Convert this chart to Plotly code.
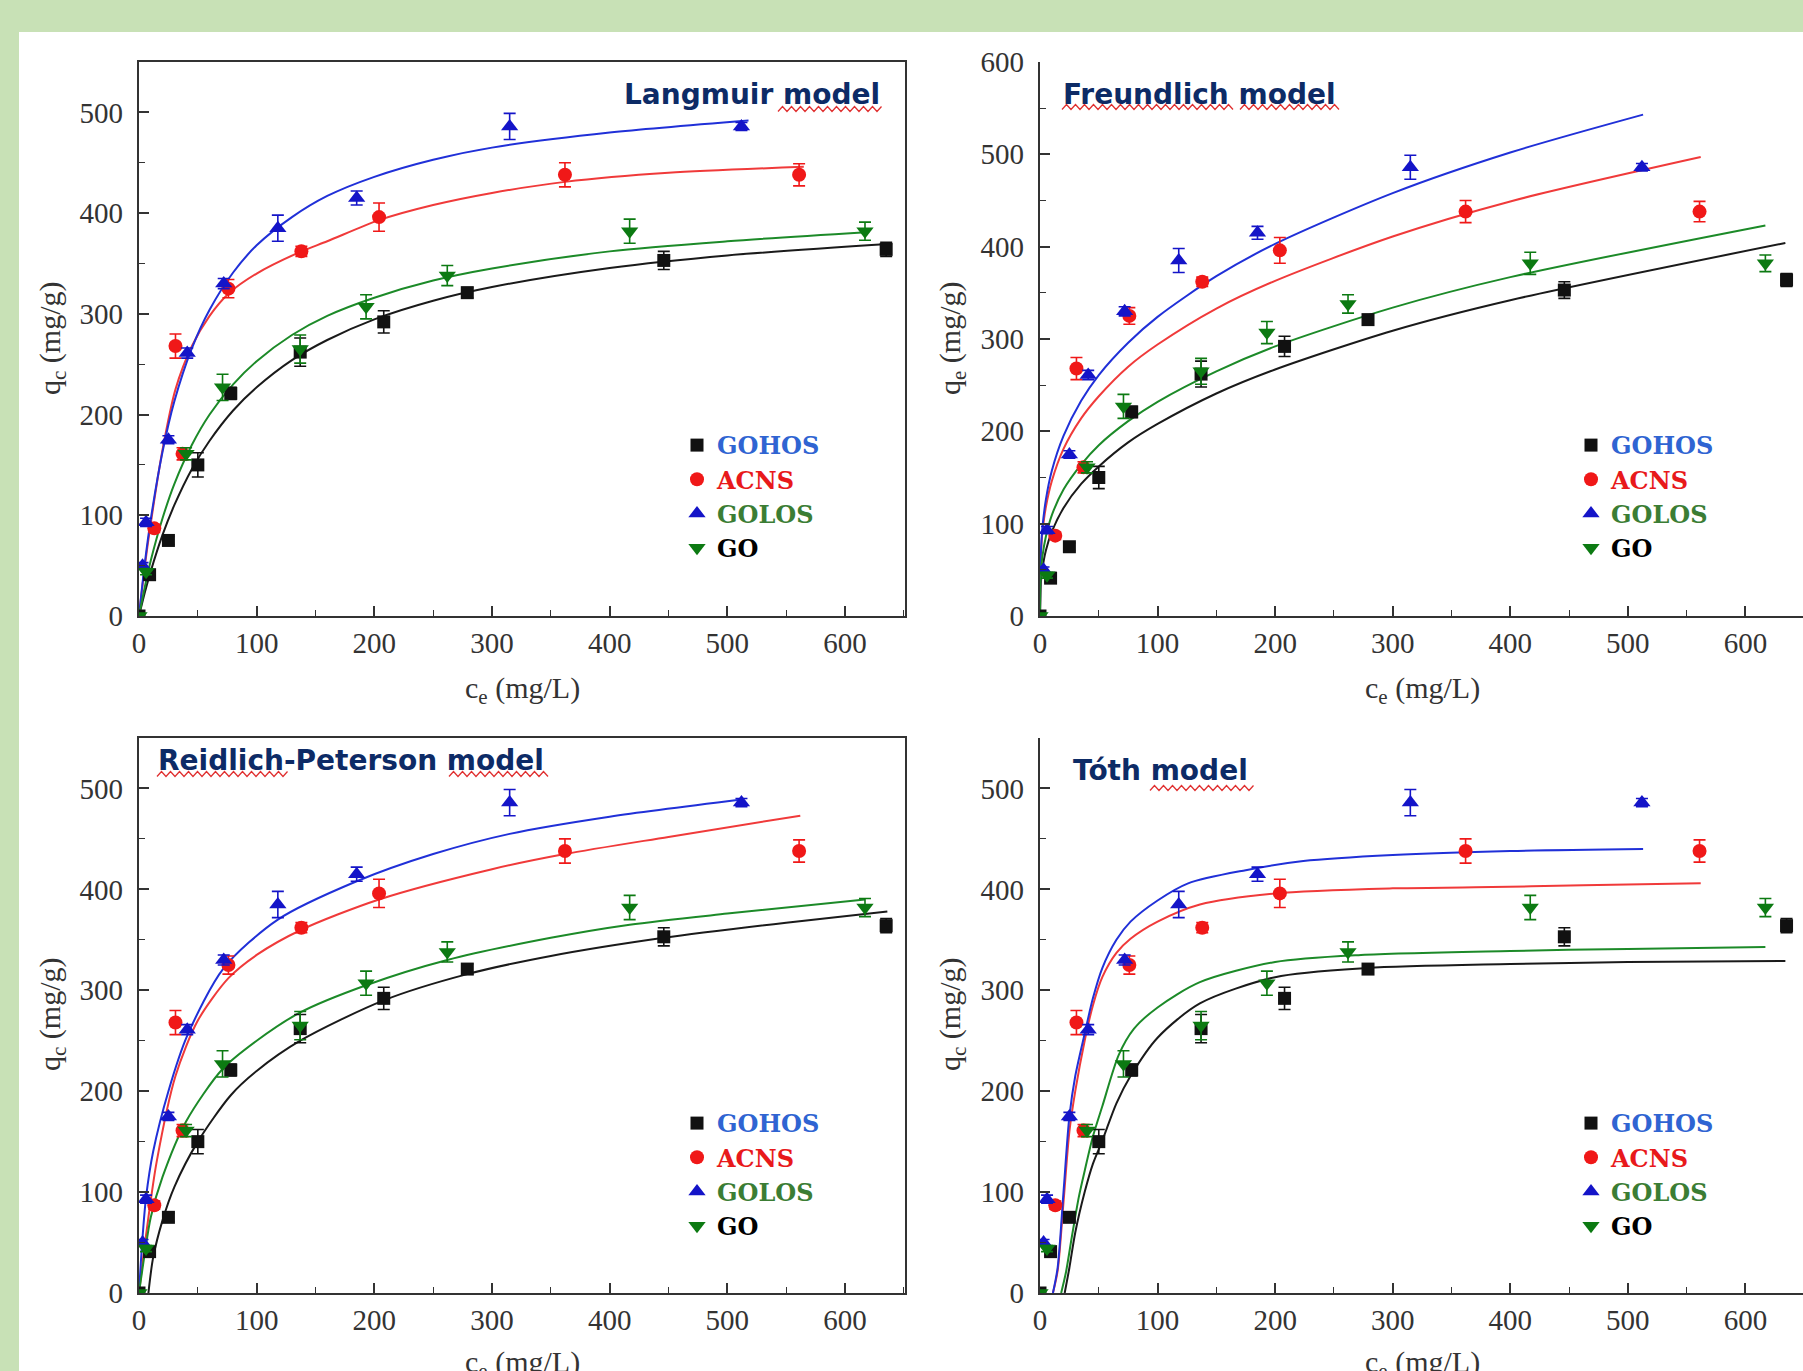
import plotly.graph_objects as go

W, H = 1803, 1371

# ---------------- experimental data (same in all four panels) ----------------
series_names = ["GOHOS", "ACNS", "GOLOS", "GO"]

gohos_x = [0, 9, 25, 50, 78, 137, 208, 279, 446, 635]
gohos_y = [0, 41, 75, 150, 221, 262, 292, 321, 353, 364]
gohos_err = [0, 4, 4, 12, 6, 14, 11, 5, 9, 7]

acns_x = [13, 31, 37, 76, 138, 204, 362, 561]
acns_y = [87, 268, 161, 325, 362, 396, 438, 438]
acns_err = [4, 12, 6, 9, 5, 14, 12, 11]

golos_x = [3, 6, 25, 41, 72, 118, 185, 315, 512]
golos_y = [50, 93, 175, 261, 330, 385, 415, 486, 486]
golos_err = [3, 4, 4, 5, 5, 13, 7, 13, 4]

go_x = [0, 6, 40, 71, 137, 193, 262, 417, 617]
go_y = [0, 44, 161, 227, 265, 307, 338, 382, 382]
go_err = [0, 3, 6, 13, 14, 12, 10, 12, 9]

# ---------------- fitted curves ----------------
# Langmuir
lang_gohos_x = [0, 5, 10, 20, 30, 45, 60, 80, 100, 130, 160, 200, 250, 300, 400, 500, 640]
lang_gohos_y = [0, 23.5, 44.5, 80.5, 110, 146, 174, 204, 227, 254, 274, 294.5, 313, 326.6, 345.5, 358, 369.5]
lang_acns_x = [0, 5, 10, 20, 31, 45, 60, 76, 100, 138, 160, 204, 250, 300, 362, 450, 565]
lang_acns_y = [0, 50, 92, 165, 225, 268, 298, 320, 340, 362, 372, 393, 408, 420, 431, 440, 446]
lang_golos_x = [0, 5, 10, 20, 30, 45, 60, 80, 100, 130, 160, 200, 250, 300, 400, 518]
lang_golos_y = [0, 53, 96, 163, 213, 266, 304, 341, 368, 396, 417, 436, 453, 465, 480, 492]
lang_go_x = [0, 5, 10, 20, 30, 45, 60, 80, 100, 130, 160, 200, 250, 300, 400, 500, 618]
lang_go_y = [0, 29, 55, 97, 131, 170, 200, 230, 253, 279, 298, 316, 333, 345, 362, 372, 381]

# Freundlich
freu_gohos_x = [0, 0.5, 1, 2, 5, 10, 20, 35, 50, 75, 100, 150, 200, 300, 400, 634]
freu_gohos_y = [0, 31, 40, 51, 71, 91, 117, 143, 162, 188, 208, 241, 267, 309, 342, 404]
freu_acns_x = [0, 0.5, 1, 2, 5, 10, 20, 35, 50, 75, 100, 150, 200, 300, 400, 562]
freu_acns_y = [0, 59, 73, 90, 118, 146, 181, 214, 238, 270, 294, 333, 363, 411, 449, 497]
freu_golos_x = [0, 0.5, 1, 2, 5, 10, 20, 35, 50, 75, 100, 150, 200, 300, 400, 513]
freu_golos_y = [0, 61, 76, 95, 126, 157, 195, 233, 261, 296, 324, 368, 403, 458, 502, 543]
freu_go_x = [0, 0.5, 1, 2, 5, 10, 20, 35, 50, 75, 100, 150, 200, 300, 400, 617]
freu_go_y = [0, 40, 51, 64, 86, 109, 137, 164, 185, 211, 232, 265, 292, 334, 367, 423]

# Reidlich-Peterson
rp_gohos_x = [8, 12, 20, 30, 50, 78, 100, 137, 208, 279, 350, 446, 550, 636]
rp_gohos_y = [0, 35, 72, 105, 150, 196, 220, 250, 290, 316, 334, 352, 367, 378]
rp_acns_x = [0, 3, 8, 15, 31, 50, 76, 100, 138, 204, 300, 362, 450, 562]
rp_acns_y = [0, 30, 75, 130, 215, 270, 312, 335, 360, 390, 420, 435, 452, 473]
rp_golos_x = [0, 3, 6, 12, 25, 41, 72, 118, 185, 250, 315, 400, 512]
rp_golos_y = [0, 55, 95, 140, 200, 255, 322, 370, 408, 435, 455, 472, 489]
rp_go_x = [0, 5, 10, 20, 40, 71, 100, 137, 193, 262, 350, 417, 500, 617]
rp_go_y = [0, 40, 75, 115, 170, 222, 250, 278, 305, 330, 352, 365, 376, 390]

# Toth
toth_gohos_x = [21, 25, 30, 38, 45, 53, 65, 77, 100, 136, 200, 278, 400, 500, 634]
toth_gohos_y = [0, 25, 60, 100, 128, 151, 188, 215, 253, 287, 313, 322, 326, 328, 329]
toth_acns_x = [11, 15, 20, 25, 30, 38, 45, 53, 65, 77, 100, 136, 200, 300, 370, 462, 562]
toth_acns_y = [0, 22, 90, 160, 200, 250, 285, 313, 337, 351, 368, 385, 396, 401, 402, 404, 406]
toth_golos_x = [11, 15, 20, 25, 30, 38, 45, 53, 65, 77, 100, 126, 175, 224, 300, 400, 513]
toth_golos_y = [0, 25, 100, 175, 215, 257, 292, 322, 350, 368, 389, 406, 419, 428, 434, 438, 440]
toth_go_x = [18, 22, 27, 33, 38, 45, 53, 67, 80, 100, 136, 200, 273, 400, 500, 617]
toth_go_y = [0, 20, 55, 95, 121, 155, 185, 236, 262, 283, 308, 328, 335, 339, 341, 343]

# tick values
x_ticks = [0, 100, 200, 300, 400, 500, 600]
y_ticks_550 = [0, 100, 200, 300, 400, 500]
y_ticks_600 = [0, 100, 200, 300, 400, 500, 600]

# ---------------- styling ----------------
marker_colors = ["#111111", "#f01818", "#1414c8", "#0c7a12"]
line_colors = ["#1a1a1a", "#f03a3a", "#2030d8", "#1c8a28"]
symbols = ["square", "circle", "triangle-up", "triangle-down"]
msizes = [13, 14, 15, 15]
label_colors = ["#2f64d2", "#e8191b", "#3b7d34", "#000000"]

data_sets = [
    (gohos_x, gohos_y, gohos_err),
    (acns_x, acns_y, acns_err),
    (golos_x, golos_y, golos_err),
    (go_x, go_y, go_err),
]

panels = [
    [(lang_gohos_x, lang_gohos_y), (lang_acns_x, lang_acns_y),
     (lang_golos_x, lang_golos_y), (lang_go_x, lang_go_y)],
    [(freu_gohos_x, freu_gohos_y), (freu_acns_x, freu_acns_y),
     (freu_golos_x, freu_golos_y), (freu_go_x, freu_go_y)],
    [(rp_gohos_x, rp_gohos_y), (rp_acns_x, rp_acns_y),
     (rp_golos_x, rp_golos_y), (rp_go_x, rp_go_y)],
    [(toth_gohos_x, toth_gohos_y), (toth_acns_x, toth_acns_y),
     (toth_golos_x, toth_golos_y), (toth_go_x, toth_go_y)],
]

# layout geometry in pixels
left_dom = [139 / W, 905 / W]
right_dom = [1040 / W, 1.0]
top_dom = [1 - 616 / H, 1 - 62 / H]
bot_dom = [1 - 1293 / H, 1 - 738 / H]
geoms = [
    dict(xd=left_dom, yd=top_dom, xr=[0, 651], yr=[0, 550], yt=y_ticks_550),
    dict(xd=right_dom, yd=top_dom, xr=[0, 649], yr=[0, 600], yt=y_ticks_600),
    dict(xd=left_dom, yd=bot_dom, xr=[0, 651], yr=[0, 550], yt=y_ticks_550),
    dict(xd=right_dom, yd=bot_dom, xr=[0, 649], yr=[0, 550], yt=y_ticks_550),
]

fig = go.Figure()
legend_names = ["legend", "legend2", "legend3", "legend4"]

for p, curves in enumerate(panels):
    xa = "x" if p == 0 else f"x{p+1}"
    ya = "y" if p == 0 else f"y{p+1}"
    for i, (cx, cy) in enumerate(curves):
        fig.add_trace(go.Scatter(
            x=cx, y=cy, mode="lines", xaxis=xa, yaxis=ya,
            line=dict(color=line_colors[i], width=2, shape="spline", smoothing=0.8),
            showlegend=False, hoverinfo="skip"))
    for i, (dx, dy, de) in enumerate(data_sets):
        fig.add_trace(go.Scatter(
            x=dx, y=dy, mode="markers", xaxis=xa, yaxis=ya,
            name=f"<b><span style='color:{label_colors[i]}'>{series_names[i]}</span></b>",
            marker=dict(symbol=symbols[i], size=msizes[i], color=marker_colors[i],
                        line=dict(width=0)),
            error_y=dict(type="data", array=de, color=marker_colors[i],
                         thickness=1.6, width=6),
            legend=legend_names[p], showlegend=True))

tick_font = dict(family="Liberation Serif", size=29, color="#333333")
layout_axes = {}
for p, g in enumerate(geoms):
    xk = "xaxis" if p == 0 else f"xaxis{p+1}"
    yk = "yaxis" if p == 0 else f"yaxis{p+1}"
    xa = "x" if p == 0 else f"x{p+1}"
    ya = "y" if p == 0 else f"y{p+1}"
    layout_axes[xk] = dict(
        domain=g["xd"], range=g["xr"], anchor=ya, tickvals=x_ticks,
        ticks="inside", ticklen=10, tickwidth=1.6, tickcolor="#333",
        minor=dict(ticks="inside", ticklen=6, dtick=50, tick0=0, tickcolor="#333", tickwidth=1.4),
        showline=True, linewidth=2.2, linecolor="#333", mirror=(p in (0, 2)),
        showgrid=False, zeroline=False, tickfont=tick_font, ticklabelstandoff=0,
        automargin=False, fixedrange=True)
    layout_axes[yk] = dict(
        domain=g["yd"], range=g["yr"], anchor=xa, tickvals=g["yt"],
        ticks="inside", ticklen=10, tickwidth=1.6, tickcolor="#333",
        minor=dict(ticks="inside", ticklen=6, dtick=50, tick0=0, tickcolor="#333", tickwidth=1.4),
        showline=True, linewidth=2.2, linecolor="#333", mirror=True,
        showgrid=False, zeroline=False, tickfont=tick_font, ticklabelstandoff=8,
        automargin=False, fixedrange=True)

legend_pos = [(677, 423), (1571, 423), (677, 1101), (1571, 1101)]
legends = {}
for p, (lx, ly) in enumerate(legend_pos):
    legends[legend_names[p]] = dict(
        x=lx / W, y=1 - ly / H, xanchor="left", yanchor="top",
        bgcolor="rgba(0,0,0,0)", borderwidth=0, itemwidth=30,
        font=dict(family="DejaVu Serif", size=24, color="#000"),
        tracegroupgap=0, itemclick=False, itemdoubleclick=False)

# text: axis titles and model titles
axis_font = dict(family="Liberation Serif", size=30, color="#333333")
annotations = []
xt_y = [690, 690, 1364, 1364]
xt_x = [522, 1422, 522, 1422]
yt_x = [52, 952, 52, 952]
yt_y = [339, 339, 1015, 1015]
ytitles = ["q<sub>c</sub> (mg/g)", "q<sub>e</sub> (mg/g)", "q<sub>c</sub> (mg/g)", "q<sub>c</sub> (mg/g)"]
for p in range(4):
    annotations.append(dict(text="c<sub>e</sub> (mg/L)", x=xt_x[p] / W, y=1 - xt_y[p] / H,
                            xref="paper", yref="paper", showarrow=False, font=axis_font,
                            xanchor="center", yanchor="middle"))
    annotations.append(dict(text=ytitles[p], x=yt_x[p] / W, y=1 - yt_y[p] / H,
                            xref="paper", yref="paper", showarrow=False, font=axis_font,
                            textangle=-90, xanchor="center", yanchor="middle"))

model_titles = ["Langmuir model", "Freundlich model", "Reidlich-Peterson model", "Tóth model"]
mt_pos = [(622, 94), (1061, 94), (156, 760), (1071, 770)]
for t, (mx, my) in zip(model_titles, mt_pos):
    annotations.append(dict(text=f"<b>{t}</b>", x=mx / W, y=1 - my / H, xref="paper", yref="paper",
                            showarrow=False, xanchor="left", yanchor="middle",
                            font=dict(family="DejaVu Sans", size=28, color="#0d2b66")))

# shapes: white panel + spell-check squiggles
shapes = [dict(type="rect", xref="paper", yref="paper", x0=19 / W, x1=1.01, y0=-0.01, y1=1 - 32 / H,
               fillcolor="white", line=dict(width=0), layer="below")]


def squiggle(x0, x1, y, amp=2.5, step=4.5):
    pts = []
    x = x0
    k = 0
    while x <= x1:
        yy = y + (amp if k % 2 == 0 else -amp)
        pts.append((x / W, 1 - yy / H))
        x += step
        k += 1
    return "M " + " L ".join(f"{a:.5f},{b:.5f}" for a, b in pts)


squiggles = [(778, 883, 109), (1062, 1233, 107), (1240, 1343, 107),
             (157, 291, 774), (449, 548, 774), (1150, 1254, 788)]
for sx0, sx1, sy in squiggles:
    shapes.append(dict(type="path", xref="paper", yref="paper", path=squiggle(sx0, sx1, sy),
                       line=dict(color="#e03030", width=1.3)))

fig.update_layout(
    width=W, height=H, margin=dict(l=0, r=0, t=0, b=0, autoexpand=False),
    paper_bgcolor="#c8e1b6", plot_bgcolor="white",
    annotations=annotations, shapes=shapes, showlegend=True,
    **layout_axes, **legends)

fig.write_html("out.html", config={"displayModeBar": False, "staticPlot": False},
               post_script="document.body.style.margin='0px';document.body.style.overflow='hidden';")
